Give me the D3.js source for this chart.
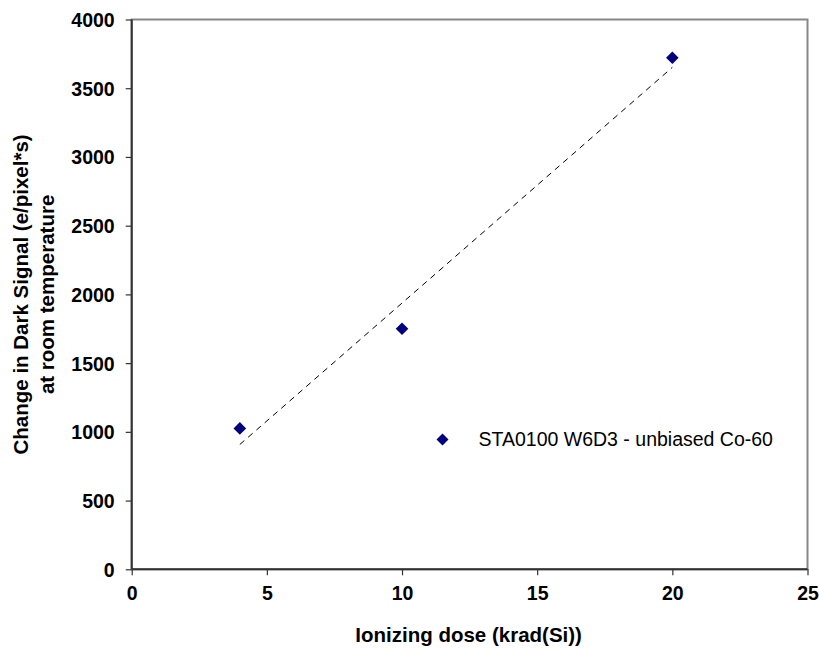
<!DOCTYPE html>
<html>
<head>
<meta charset="utf-8">
<script src="https://cdn.jsdelivr.net/npm/d3@7"></script>
<style>
  body { margin: 0; background: #fff; }
  text { font-family: "Liberation Sans", Arial, sans-serif; fill: #000; }
</style>
</head>
<body>
<script>
// measured points: dose (krad(Si)) vs change in dark signal
const doses = [4, 10, 20];
const darkSignal = [1025, 1750, 3722];
const xTicks = [0, 5, 10, 15, 20, 25];
const yTicks = [0, 500, 1000, 1500, 2000, 2500, 3000, 3500, 4000];
const seriesName = 'STA0100 W6D3 - unbiased Co-60';

const W = 819, H = 648;
const m = { top: 19.5, right: 11.5, bottom: 78.7, left: 131.7 };
const w = W - m.left - m.right, h = H - m.top - m.bottom;

const svg = d3.select('body').append('svg').attr('width', W).attr('height', H);
const g = svg.append('g').attr('transform', `translate(${m.left},${m.top})`);

const x = d3.scaleLinear().domain([0, 25]).range([0, w]);
const y = d3.scaleLinear().domain([0, 4000]).range([h, 0]);

// plot area border (grey top/right)
g.append('rect')
    .attr('width', w).attr('height', h)
    .attr('fill', 'none').attr('stroke', '#888').attr('stroke-width', 2);

// axes
const xAxis = g.append('g').attr('transform', `translate(0,${h})`)
    .call(d3.axisBottom(x).tickValues(xTicks).tickFormat(d3.format('d'))
        .tickSize(6).tickPadding(10));
const yAxis = g.append('g')
    .call(d3.axisLeft(y).tickValues(yTicks).tickFormat(d3.format('d'))
        .tickSize(6).tickPadding(11));

[xAxis, yAxis].forEach(a => {
    a.select('.domain').attr('stroke', '#333').attr('stroke-width', 2);
    a.selectAll('.tick line').attr('stroke', '#333').attr('stroke-width', 1.2);
    a.selectAll('.tick text')
        .attr('font-family', '"Liberation Sans", Arial, sans-serif')
        .attr('font-size', 19.5).attr('font-weight', 'bold').attr('fill', '#000');
});
xAxis.select('.domain').attr('d', `M0,0H${w}`);
yAxis.select('.domain').attr('d', `M0,${h}V0`);
yAxis.selectAll('.tick text').attr('dy', '0.36em');
xAxis.selectAll('.tick text').attr('dy', '0.75em');

// linear trendline (least squares over the measured points)
const mx = d3.mean(doses), my = d3.mean(darkSignal);
const slope = d3.sum(doses, (d, i) => (d - mx) * (darkSignal[i] - my)) /
    d3.sum(doses, d => (d - mx) ** 2);
const icpt = my - slope * mx;
const xr = d3.extent(doses);
g.append('line')
    .attr('x1', x(xr[0])).attr('y1', y(icpt + slope * xr[0]))
    .attr('x2', x(xr[1])).attr('y2', y(icpt + slope * xr[1]))
    .attr('stroke', '#000').attr('stroke-width', 1)
    .attr('stroke-dasharray', '6,5');

// data markers
const diamond = s => `M0,${-s}L${s},0L0,${s}L${-s},0Z`;
g.selectAll('.pt')
    .data(doses.map((d, i) => [d, darkSignal[i]]))
    .join('path')
    .attr('class', 'pt')
    .attr('transform', d => `translate(${x(d[0])},${y(d[1])})`)
    .attr('d', diamond(6.3))
    .attr('fill', '#000080');

// legend
const lg = svg.append('g').attr('transform', 'translate(442.5,439.5)');
lg.append('path').attr('d', diamond(6)).attr('fill', '#000080');
lg.append('text').attr('x', 36).attr('y', 6.5)
    .attr('font-size', 19.5).text(seriesName);

// axis titles
svg.append('text')
    .attr('x', m.left + w / 2 - 1).attr('y', 642)
    .attr('text-anchor', 'middle')
    .attr('font-size', 20.5).attr('font-weight', 'bold')
    .text('Ionizing dose (krad(Si))');

const yt = svg.append('text')
    .attr('transform', `translate(0,${m.top + h / 2}) rotate(-90)`)
    .attr('text-anchor', 'middle')
    .attr('font-size', 20.5).attr('font-weight', 'bold');
yt.append('tspan').attr('x', 0).attr('y', 28).text('Change in Dark Signal (e/pixel*s)');
yt.append('tspan').attr('x', 0).attr('y', 54).text('at room temperature');
</script>
</body>
</html>
